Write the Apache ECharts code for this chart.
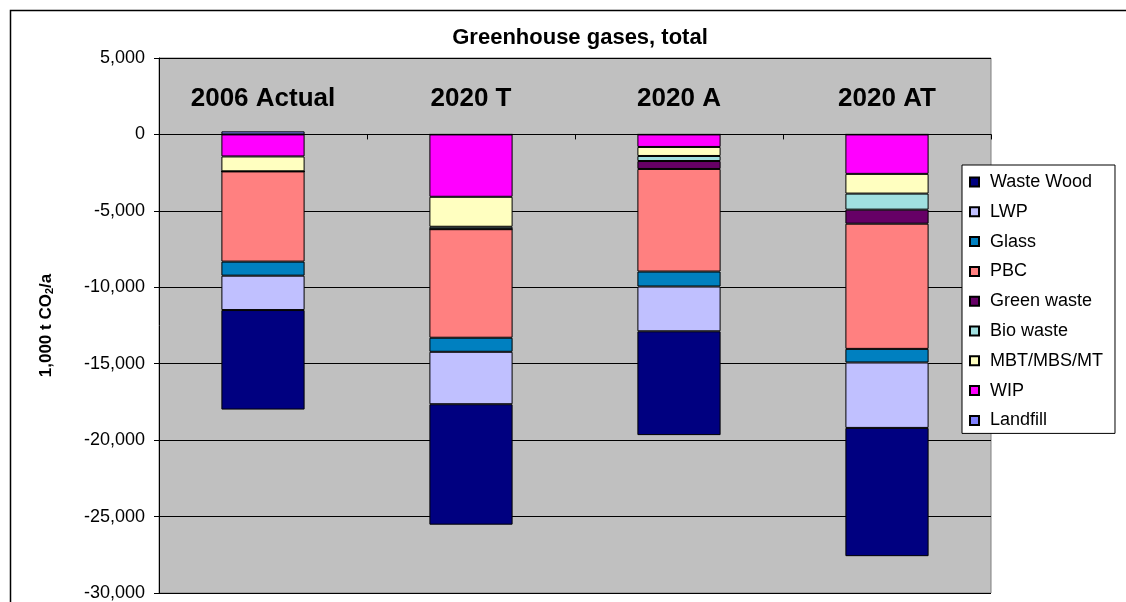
<!DOCTYPE html>
<html>
<head>
<meta charset="utf-8">
<script src="https://cdn.jsdelivr.net/npm/echarts@6/dist/echarts.min.js"></script>
<style>
html,body{margin:0;padding:0;background:#fff;}
#chart{width:1126px;height:602px;}
</style>
</head>
<body>
<div id="chart"></div>
<script>
const categories = ['2006 Actual', '2020 T', '2020 A', '2020 AT'];
const landfill   = [200, 0, 0, 0];
const wip        = [-1440, -4080, -820, -2580];
const mbt        = [-980, -1960, -590, -1290];
const bioWaste   = [0, -160, -330, -1050];
const greenWaste = [0, 0, -520, -920];
const pbc        = [-5900, -7100, -6710, -8190];
const glass      = [-920, -920, -980, -890];
const lwp        = [-2250, -3430, -2930, -4280];
const wasteWood  = [-6510, -7880, -6790, -8390];
const yTicks = { min: -30000, max: 5000, step: 5000 };

const seriesDefs = [
  ['Landfill', landfill, '#8080FF'],
  ['WIP', wip, '#FF00FF'],
  ['MBT/MBS/MT', mbt, '#FFFFC0'],
  ['Bio waste', bioWaste, '#A0E0E0'],
  ['Green waste', greenWaste, '#660066'],
  ['PBC', pbc, '#FF8080'],
  ['Glass', glass, '#0080C0'],
  ['LWP', lwp, '#C0C0FF'],
  ['Waste Wood', wasteWood, '#000080']
];
const legendOrder = ['Waste Wood', 'LWP', 'Glass', 'PBC', 'Green waste', 'Bio waste', 'MBT/MBS/MT', 'WIP', 'Landfill'];

const chart = echarts.init(document.getElementById('chart'));
const FONT = '"Liberation Sans", Arial, sans-serif';
chart.setOption({
  animation: false,
  backgroundColor: '#fff',
  textStyle: { fontFamily: FONT },
  title: {
    text: 'Greenhouse gases, total',
    left: 575, top: 22, textAlign: 'center',
    textStyle: { fontFamily: FONT, fontSize: 22, fontWeight: 'bold', color: '#000' }
  },
  graphic: [{
    type: 'rect', silent: true, z: 100,
    shape: { x: 10.5, y: 10.5, width: 1300, height: 800 },
    style: { fill: 'none', stroke: '#000', lineWidth: 1.5 }
  }],
  legend: {
    data: legendOrder,
    orient: 'vertical',
    left: 962, top: 165,
    padding: [8, 12, 4, 7],
    itemWidth: 9, itemHeight: 9, itemGap: 11.8,
    backgroundColor: '#fff', borderColor: '#000', borderWidth: 1,
    icon: 'rect',
    textStyle: { fontFamily: FONT, fontSize: 18, lineHeight: 18, color: '#000', padding: [0, 0, 0, 6] }
  },
  grid: {
    left: 159, right: 135, top: 58, bottom: 9,
    show: true, backgroundColor: '#C0C0C0', borderColor: '#808080', borderWidth: 1
  },
  xAxis: [{
    type: 'category',
    data: categories,
    position: 'top',
    axisLine: { show: false, onZero: false },
    axisTick: { show: false },
    axisLabel: {
      inside: true, margin: 28,
      fontFamily: FONT, fontSize: 26, fontWeight: 'bold', color: '#000'
    },
    splitLine: { show: false }
  }, {
    type: 'category',
    data: categories,
    position: 'bottom',
    axisLine: { onZero: true, lineStyle: { color: '#000', width: 1 } },
    axisTick: { show: true, length: 5, lineStyle: { color: '#000' } },
    axisLabel: { show: false },
    splitLine: { show: false }
  }],
  yAxis: {
    type: 'value',
    min: yTicks.min, max: yTicks.max, interval: yTicks.step,
    name: '{a|1,000 t CO}{s|2}{a|/a}',
    nameLocation: 'middle', nameRotate: 90, nameGap: 104,
    nameTextStyle: {
      rich: {
        a: { fontFamily: FONT, fontSize: 17, fontWeight: 'bold', color: '#000' },
        s: { fontFamily: FONT, fontSize: 11, fontWeight: 'bold', color: '#000', verticalAlign: 'bottom', padding: [6, 0, 0, 0] }
      }
    },
    axisLine: { show: true, lineStyle: { color: '#000', width: 1 } },
    axisTick: { show: true, length: 5, lineStyle: { color: '#000' } },
    axisLabel: {
      margin: 14, fontFamily: FONT, fontSize: 18, color: '#000',
      formatter: v => v.toLocaleString('en-US')
    },
    splitLine: { show: true, lineStyle: { color: '#000', width: 1 } }
  },
  series: seriesDefs.map(([name, data, color]) => ({
    name, type: 'bar', stack: 'total', data,
    xAxisIndex: 0,
    barWidth: '40%',
    itemStyle: { color, borderColor: '#000', borderWidth: 1 }
  }))
});
</script>
</body>
</html>
